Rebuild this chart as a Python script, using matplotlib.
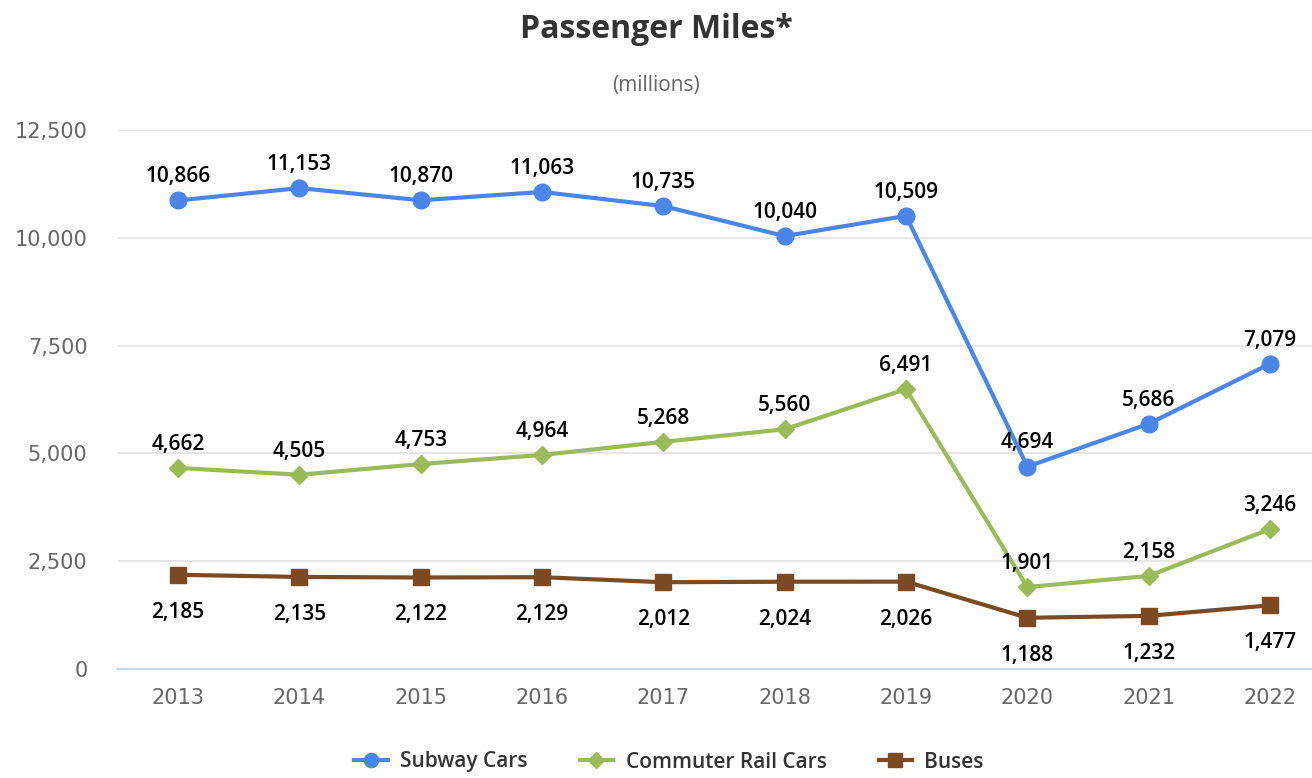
import numpy as np
import matplotlib
matplotlib.use("Agg")
import matplotlib.pyplot as plt

years = ["2013", "2014", "2015", "2016", "2017", "2018", "2019", "2020", "2021", "2022"]
subway = [10866, 11153, 10870, 11063, 10735, 10040, 10509, 4694, 5686, 7079]
commuter = [4662, 4505, 4753, 4964, 5268, 5560, 6491, 1901, 2158, 3246]
buses = [2185, 2135, 2122, 2129, 2012, 2024, 2026, 1188, 1232, 1477]
yticks = [0, 2500, 5000, 7500, 10000, 12500]

plt.rcParams['font.family'] = ['DejaVu Sans']

fig = plt.figure(figsize=(13.12, 7.78), dpi=100)
ax = fig.add_axes([118 / 1312, (778 - 669) / 778, (1312 - 118) / 1312, (669 - 130) / 778])

x = np.arange(len(years))
blue = "#4a86e8"
green = "#9bbb59"
brown = "#7b4a22"

ax.plot(x, subway, color=blue, lw=3, marker="o", ms=12, label="Subway Cars", zorder=3)
ax.plot(x, commuter, color=green, lw=3, marker="D", ms=9, label="Commuter Rail Cars", zorder=3)
ax.plot(x, buses, color=brown, lw=3, marker="s", ms=12, label="Buses", zorder=3)

lab = dict(ha="center", va="center", fontsize=15, color="black",
           family="Open Sans", fontweight="semibold", textcoords="offset points")
for xi, v in zip(x, subway):
    ax.annotate(f"{v:,}", (xi, v), xytext=(0, 17), **lab)
for xi, v in zip(x, commuter):
    ax.annotate(f"{v:,}", (xi, v), xytext=(0, 17), **lab)
for xi, v in zip(x, buses):
    ax.annotate(f"{v:,}", (xi, v), xytext=(0, -27), **lab)

ax.set_xlim(-0.495, 9.346)
ax.set_ylim(0, 12500)
ax.set_xticks(x)
ax.set_xticklabels(years)
ax.set_yticks(yticks)
ax.set_yticklabels([f"{t:,}" for t in yticks])
ax.tick_params(axis="both", length=0, labelsize=15, labelcolor="#666666")
ax.tick_params(axis="x", pad=14)
ax.tick_params(axis="y", pad=22)
ax.grid(axis="y", color="#e6e6e6", lw=1.5)
ax.set_axisbelow(True)
for s in ["top", "right", "left"]:
    ax.spines[s].set_visible(False)
ax.spines["bottom"].set_color("#ccd6eb")
ax.spines["bottom"].set_linewidth(1.5)
ax.spines["bottom"].set_zorder(1)

fig.text(0.5, 1 - 29 / 778, "Passenger Miles*", ha="center", va="center",
         fontsize=23, fontweight="bold", color="#333333", family="Open Sans")
fig.text(0.5, 1 - 86 / 778, "(millions)", ha="center", va="center",
         fontsize=15, color="#666666", family="Open Sans")

leg = fig.legend(loc="center", bbox_to_anchor=(0.51, 1 - 762 / 778), ncol=3, frameon=False,
                 handlelength=1.6, columnspacing=2.5, handletextpad=0.6,
                 labelcolor="#333333", markerscale=0.85,
                 prop=dict(family="Open Sans", size=15, weight="semibold"))

fig.savefig("out.png", dpi=100)
